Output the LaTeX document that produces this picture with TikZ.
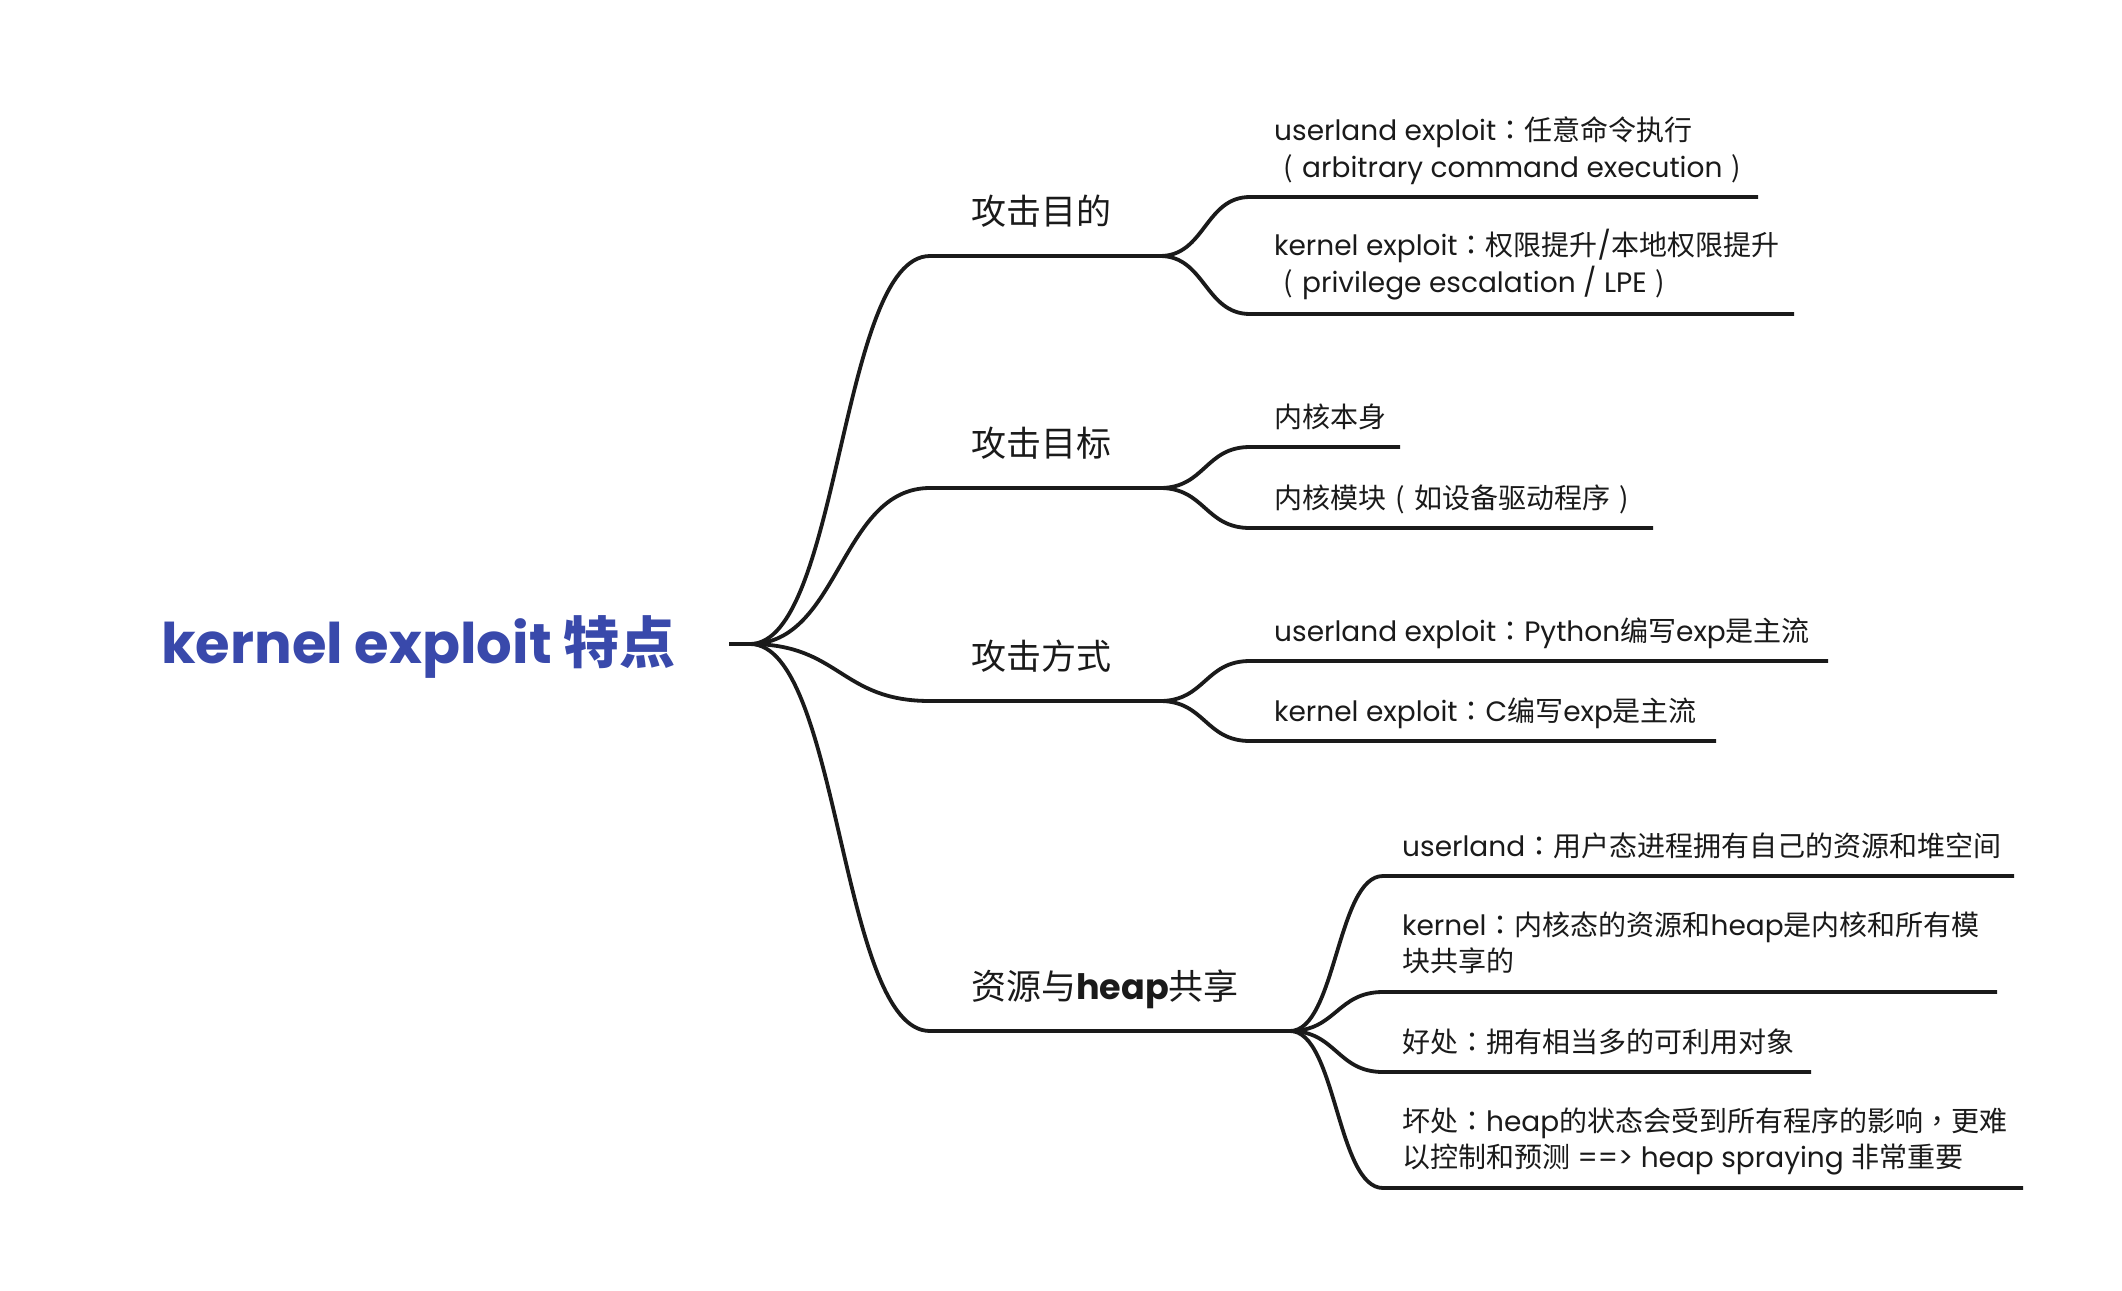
\documentclass[tikz,border=0pt]{standalone}
\usepackage{fontspec}
\setmainfont{Poppins}
\newfontfamily\cjk{Noto Sans CJK SC}
\newfontfamily\cjkp{Noto Sans CJK TC}
\newcommand\zh[1]{{\cjk #1}}
\newcommand\zp[1]{{\cjkp #1}}
\newcommand\lpar{\makebox[1em][c]{\cjk(}}
\newcommand\rpar{\makebox[1em][c]{\cjk)}}
\definecolor{ink}{HTML}{1A1A1A}
\definecolor{titleblue}{HTML}{3949AB}
\begin{document}
\begin{tikzpicture}[x=1pt,y=-1pt,
  edge/.style={draw=ink,line width=3.8pt},
  branchtxt/.style={anchor=base west,inner sep=0pt,text=ink,font=\fontsize{35}{42}\selectfont},
  leaftxt/.style={anchor=base west,inner sep=0pt,text=ink,font=\fontsize{28}{34}\selectfont},
  titletxt/.style={anchor=base west,inner sep=0pt,text=titleblue,font=\fontsize{56}{60}\selectfont\bfseries},
]
\fill[white] (0,0) rectangle (2122,1290);
\useasboundingbox (0,0) rectangle (2122,1290);

% title
\node[titletxt] (title) at (161,663) {kernel exploit \zh{特点}};

% junctions
\coordinate (r0) at (729,644);
\coordinate (r1) at (750,644);
\coordinate (b1s) at (930,256);  \coordinate (b1e) at (1160,256);
\coordinate (b2s) at (930,488);  \coordinate (b2e) at (1160,488);
\coordinate (b3s) at (930,701);  \coordinate (b3e) at (1160,701);
\coordinate (b4s) at (930,1031); \coordinate (b4e) at (1290,1031);

\coordinate (l1as) at (1250,197);  \coordinate (l1ae) at (1758,197);
\coordinate (l1bs) at (1250,314);  \coordinate (l1be) at (1794,314);
\coordinate (l2as) at (1250,447);  \coordinate (l2ae) at (1400,447);
\coordinate (l2bs) at (1250,528);  \coordinate (l2be) at (1653,528);
\coordinate (l3as) at (1250,661);  \coordinate (l3ae) at (1828,661);
\coordinate (l3bs) at (1250,741);  \coordinate (l3be) at (1716,741);
\coordinate (l4as) at (1383,876);  \coordinate (l4ae) at (2014,876);
\coordinate (l4bs) at (1383,992);  \coordinate (l4be) at (1997,992);
\coordinate (l4cs) at (1383,1072); \coordinate (l4ce) at (1811,1072);
\coordinate (l4ds) at (1383,1188); \coordinate (l4de) at (2023,1188);

% main connectors
\draw[edge] (r0) -- (r1) to[out=0,in=180,distance=90] (b1s) -- (b1e);
\draw[edge] (r1) to[out=0,in=180,distance=90] (b2s) -- (b2e);
\draw[edge] (r1) to[out=0,in=180,distance=90] (b3s) -- (b3e);
\draw[edge] (r1) to[out=0,in=180,distance=90] (b4s) -- (b4e);

% leaf connectors
\draw[edge] (b1e) to[out=0,in=180,distance=45] (l1as) -- (l1ae);
\draw[edge] (b1e) to[out=0,in=180,distance=45] (l1bs) -- (l1be);
\draw[edge] (b2e) to[out=0,in=180,distance=45] (l2as) -- (l2ae);
\draw[edge] (b2e) to[out=0,in=180,distance=45] (l2bs) -- (l2be);
\draw[edge] (b3e) to[out=0,in=180,distance=45] (l3as) -- (l3ae);
\draw[edge] (b3e) to[out=0,in=180,distance=45] (l3bs) -- (l3be);
\draw[edge] (b4e) to[out=0,in=180,distance=46] (l4as) -- (l4ae);
\draw[edge] (b4e) to[out=0,in=180,distance=46] (l4bs) -- (l4be);
\draw[edge] (b4e) to[out=0,in=180,distance=46] (l4cs) -- (l4ce);
\draw[edge] (b4e) to[out=0,in=180,distance=46] (l4ds) -- (l4de);

% branch texts
\node[branchtxt] (t1) at (971,224) {\zh{攻击目的}};
\node[branchtxt] (t2) at (971,456) {\zh{攻击目标}};
\node[branchtxt] (t3) at (971,669) {\zh{攻击方式}};
\node[branchtxt] (t4) at (971,999) {\zh{资源与}{\bfseries heap}\zh{共享}};

% leaf texts
\node[leaftxt] (x1a) at (1274,140) {userland exploit\zp{：}\zh{任意命令执行}};
\node[leaftxt] (x1a2) at (1274,177) {\lpar arbitrary command execution\rpar};
\node[leaftxt] (x1b) at (1274,255) {kernel exploit\zp{：}\zh{权限提升}/\zh{本地权限提升}};
\node[leaftxt] (x1b2) at (1274,292) {\lpar privilege escalation / LPE\rpar};
\node[leaftxt] (x2a) at (1274,427) {\zh{内核本身}};
\node[leaftxt] (x2b) at (1274,508) {\zh{内核模块}\lpar\zh{如设备驱动程序}\rpar};
\node[leaftxt] (x3a) at (1274,641) {userland exploit\zp{：}Python\zh{编写}exp\zh{是主流}};
\node[leaftxt] (x3b) at (1274,721) {kernel exploit\zp{：}C\zh{编写}exp\zh{是主流}};
\node[leaftxt] (x4a) at (1402,856) {userland\zp{：}\zh{用户态进程拥有自己的资源和堆空间}};
\node[leaftxt] (x4b) at (1402,935) {kernel\zp{：}\zh{内核态的资源和}heap\zh{是内核和所有模}};
\node[leaftxt] (x4b2) at (1402,971) {\zh{块共享的}};
\node[leaftxt] (x4c) at (1402,1052) {\zh{好处}\zp{：}\zh{拥有相当多的可利用对象}};
\node[leaftxt] (x4d) at (1402,1131) {\zh{坏处}\zp{：}heap\zh{的状态会受到所有程序的影响}\zp{，}\zh{更难}};
\node[leaftxt] (x4d2) at (1402,1167) {\zh{以控制和预测} ==> heap spraying \zh{非常重要}};
\end{tikzpicture}
\end{document}
